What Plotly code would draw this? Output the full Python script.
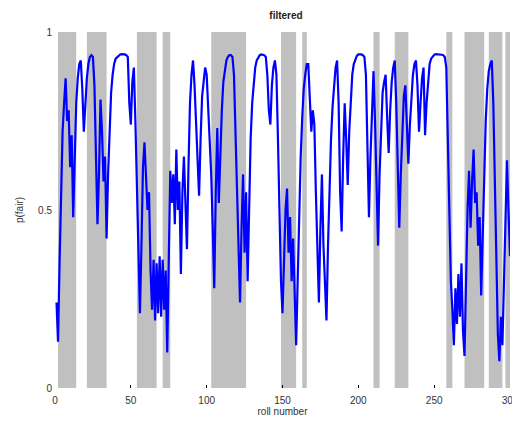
import plotly.graph_objects as go

rolls = list(range(1, 301))
p_fair = [
    0.24, 0.13, 0.35, 0.58, 0.72, 0.80, 0.87, 0.75, 0.78, 0.62,
    0.71, 0.48, 0.68, 0.80, 0.87, 0.91, 0.92, 0.84, 0.72, 0.80,
    0.87, 0.91, 0.93, 0.935, 0.93, 0.85, 0.68, 0.46, 0.60, 0.81,
    0.72, 0.58, 0.65, 0.42, 0.60, 0.74, 0.83, 0.88, 0.91, 0.925,
    0.93, 0.935, 0.937, 0.938, 0.938, 0.937, 0.935, 0.93, 0.80, 0.74,
    0.86, 0.90, 0.75, 0.55, 0.35, 0.21, 0.40, 0.62, 0.69, 0.60,
    0.50, 0.55, 0.33, 0.22, 0.36, 0.19, 0.35, 0.21, 0.37, 0.20,
    0.36, 0.22, 0.33, 0.10, 0.40, 0.61, 0.52, 0.60, 0.46, 0.67,
    0.50, 0.58, 0.32, 0.55, 0.65, 0.48, 0.39, 0.62, 0.80, 0.88,
    0.92, 0.85, 0.75, 0.68, 0.54, 0.70, 0.82, 0.86, 0.90, 0.88,
    0.80, 0.70, 0.60, 0.45, 0.28, 0.55, 0.73, 0.52, 0.66, 0.78,
    0.86, 0.90, 0.92, 0.93, 0.935, 0.935, 0.93, 0.88, 0.72, 0.50,
    0.35, 0.24, 0.45, 0.60, 0.38, 0.55, 0.30, 0.55, 0.70, 0.80,
    0.86, 0.90, 0.92, 0.93, 0.935, 0.937, 0.937, 0.935, 0.93, 0.88,
    0.78, 0.74, 0.85, 0.90, 0.92, 0.88, 0.70, 0.45, 0.30, 0.21,
    0.40, 0.50, 0.56, 0.38, 0.48, 0.30, 0.42, 0.25, 0.12, 0.30,
    0.50, 0.65, 0.76, 0.84, 0.88, 0.91, 0.91, 0.80, 0.72, 0.78,
    0.74, 0.55, 0.38, 0.24, 0.45, 0.60, 0.40, 0.30, 0.19, 0.40,
    0.58, 0.70, 0.79, 0.86, 0.90, 0.92, 0.80, 0.55, 0.44, 0.65,
    0.80, 0.70, 0.57, 0.72, 0.82, 0.88, 0.91, 0.925, 0.933, 0.937,
    0.938, 0.937, 0.935, 0.93, 0.88, 0.70, 0.48, 0.65, 0.80, 0.89,
    0.75, 0.55, 0.40, 0.60, 0.75, 0.83, 0.86, 0.88, 0.76, 0.66,
    0.78, 0.86, 0.90, 0.92, 0.80, 0.62, 0.45, 0.60, 0.74, 0.82,
    0.85, 0.72, 0.63, 0.74, 0.83, 0.88, 0.91, 0.92, 0.85, 0.72,
    0.80, 0.87, 0.90, 0.71, 0.80, 0.87, 0.91, 0.925, 0.932, 0.936,
    0.938, 0.938, 0.938, 0.937, 0.936, 0.935, 0.93, 0.90, 0.70, 0.43,
    0.30, 0.22, 0.12, 0.28, 0.18, 0.32, 0.20, 0.35, 0.16, 0.09,
    0.30, 0.50, 0.61, 0.45, 0.58, 0.67, 0.52, 0.55, 0.40, 0.48,
    0.26, 0.45, 0.62, 0.75, 0.84, 0.89, 0.91, 0.92, 0.80, 0.55,
    0.30, 0.15, 0.075, 0.20, 0.12, 0.30, 0.50, 0.64, 0.50, 0.37,
]

# periods where the loaded die was in use (roll ranges)
band_starts = [2, 21, 54, 71, 103, 149, 163, 210, 224, 258, 270, 286, 297]
band_ends = [14, 34, 67, 76, 126, 159, 166, 214, 233, 262, 283, 295, 300]

x_ticks = [0, 50, 100, 150, 200, 250, 300]
y_ticks = [0, 0.5, 1]
y_tick_labels = ["0", "0.5", "1"]

fig = go.Figure()

shapes = []
for s, e in zip(band_starts, band_ends):
    shapes.append(dict(type="rect", xref="x", yref="y", x0=s, x1=e, y0=0, y1=1,
                       fillcolor="#c0c0c0", line=dict(width=0), layer="below"))

fig.add_trace(go.Scatter(x=rolls, y=p_fair, mode="lines",
                         line=dict(color="#0000ff", width=2.2), showlegend=False,
                         hoverinfo="skip"))

# the page body adds an 8px margin, so the figure is sized to fit inside the window
fig.update_layout(
    width=512, height=419,
    margin=dict(l=47, r=10, t=24, b=39),
    paper_bgcolor="white", plot_bgcolor="white",
    shapes=shapes,
    title=dict(text="<b>filtered</b>", x=0.543, xanchor="center", y=1, yanchor="top",
               pad=dict(t=4),
               font=dict(family="Liberation Sans, Arial", size=10, color="#222")),
    font=dict(family="Liberation Sans, Arial", size=10, color="#333"),
    xaxis=dict(range=[0, 300], tickvals=x_ticks, ticks="inside", ticklen=3,
               tickcolor="#000", showgrid=False, zeroline=False, showline=False,
               automargin=False, ticklabelstandoff=5,
               title=dict(text="roll number", standoff=2, font=dict(size=10)),
               fixedrange=True),
    yaxis=dict(range=[0, 1], tickvals=y_ticks, ticktext=y_tick_labels,
               ticks="", showgrid=False, zeroline=False, showline=False,
               automargin=False, ticklabelstandoff=2,
               title=dict(text="p(fair)", standoff=12, font=dict(size=10)),
               fixedrange=True),
)

fig.write_html("out.html")
